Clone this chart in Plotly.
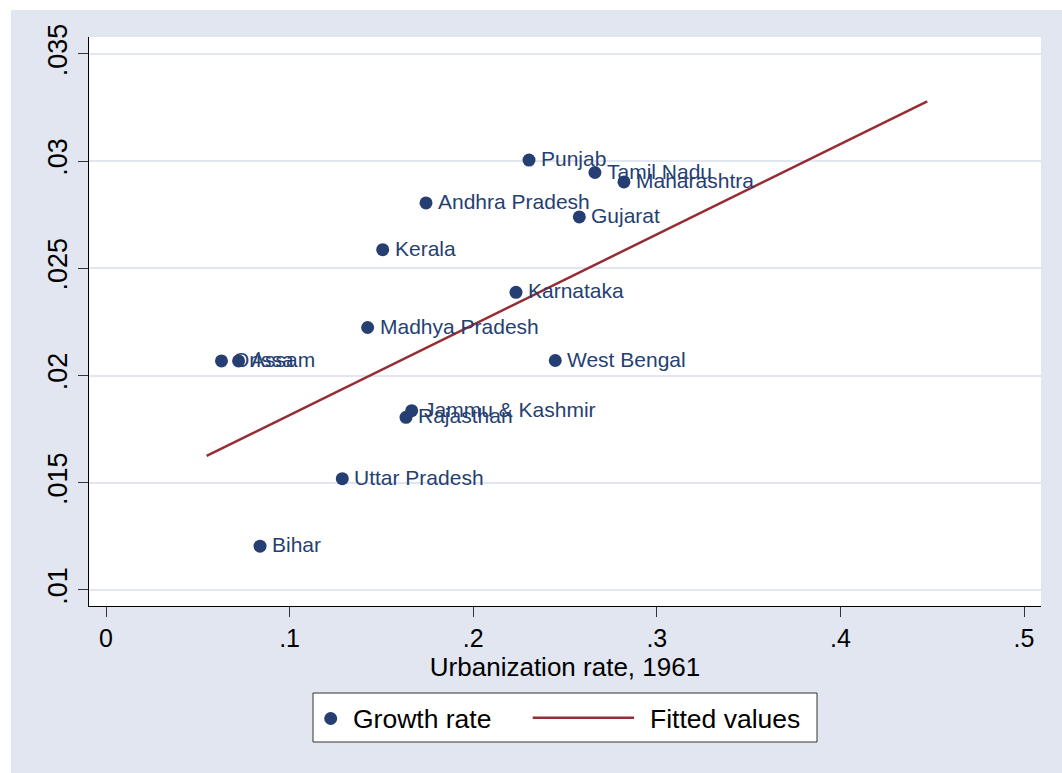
import plotly.graph_objects as go

# Indian states: urbanization rate in 1961 vs. growth rate
states = ["Punjab", "Tamil Nadu", "Maharashtra", "Andhra Pradesh", "Gujarat",
          "Kerala", "Karnataka", "Madhya Pradesh", "Orissa", "Assam",
          "West Bengal", "Jammu & Kashmir", "Rajasthan", "Uttar Pradesh", "Bihar"]
urbanization_1961 = [0.2304, 0.2663, 0.2821, 0.1743, 0.2578,
                     0.1507, 0.2233, 0.1425, 0.0629, 0.0722,
                     0.2447, 0.1665, 0.1634, 0.1287, 0.0839]
growth_rate = [0.03005, 0.02947, 0.02903, 0.02805, 0.02740,
               0.02587, 0.02388, 0.02224, 0.02068, 0.02068,
               0.02070, 0.01836, 0.01805, 0.01519, 0.01204]

# Linear fit evaluated at the ends of its range
fit_x = [0.0548, 0.4473]
fit_y = [0.01625, 0.03279]

x_ticks = [0, 0.1, 0.2, 0.3, 0.4, 0.5]
x_tick_labels = ["0", ".1", ".2", ".3", ".4", ".5"]
y_ticks = [0.01, 0.015, 0.02, 0.025, 0.03, 0.035]
y_tick_labels = [".01", ".015", ".02", ".025", ".03", ".035"]

NAVY = "rgb(38,63,114)"
MAROON = "rgb(150,44,52)"
BG = "rgb(225,230,240)"
FONT = "Liberation Sans, Arial, sans-serif"

W, H = 1062, 773
L, R, T, B = 89, 21, 37, 167
PW, PH = W - L - R, H - T - B


def px_x(px):
    return (px - L) / PW


def px_y(py):
    return (H - B - py) / PH


fig = go.Figure()

fig.add_trace(go.Scatter(
    x=urbanization_1961, y=growth_rate, text=states,
    mode="markers", hoverinfo="text+x+y",
    marker=dict(color=NAVY, size=13),
    name="Growth rate", showlegend=False, cliponaxis=False,
))

fig.add_trace(go.Scatter(
    x=fit_x, y=fit_y, mode="lines",
    line=dict(color=MAROON, width=2.5),
    name="Fitted values", showlegend=False,
))

# marker labels at 3 o'clock
annotations = [
    dict(text=name, x=xv, y=yv, xref="x", yref="y",
         xanchor="left", yanchor="middle", xshift=10, yshift=1.5,
         showarrow=False, font=dict(size=21, color=NAVY, family=FONT))
    for name, xv, yv in zip(states, urbanization_1961, growth_rate)
]

shapes = [
    # white margin strips along the top and left edges
    dict(type="rect", xref="paper", yref="paper", layer="below",
         x0=px_x(0), x1=px_x(W), y0=px_y(0), y1=px_y(10),
         fillcolor="white", line_width=0),
    dict(type="rect", xref="paper", yref="paper", layer="below",
         x0=px_x(0), x1=px_x(11), y0=px_y(0), y1=px_y(H),
         fillcolor="white", line_width=0),
    # legend box
    dict(type="rect", xref="paper", yref="paper",
         x0=px_x(313), x1=px_x(817), y0=px_y(693), y1=px_y(742),
         fillcolor="white", line=dict(color="#333333", width=1)),
    dict(type="circle", xref="paper", yref="paper",
         xsizemode="pixel", ysizemode="pixel",
         xanchor=px_x(330.7), yanchor=px_y(718.5),
         x0=-6.5, x1=6.5, y0=-6.5, y1=6.5,
         fillcolor=NAVY, line_width=0),
    dict(type="line", xref="paper", yref="paper",
         x0=px_x(532.7), x1=px_x(634), y0=px_y(717.7), y1=px_y(717.7),
         line=dict(color=MAROON, width=2.5)),
]

annotations += [
    dict(text="Growth rate", xref="paper", yref="paper",
         x=px_x(351), y=px_y(718.5), xanchor="left", yanchor="middle",
         showarrow=False, font=dict(size=26.5, color="black", family=FONT)),
    dict(text="Fitted values", xref="paper", yref="paper",
         x=px_x(648), y=px_y(718.5), xanchor="left", yanchor="middle",
         showarrow=False, font=dict(size=26.5, color="black", family=FONT)),
]

fig.update_layout(
    width=W, height=H,
    margin=dict(l=L, r=R, t=T, b=B, pad=0),
    paper_bgcolor=BG, plot_bgcolor="white",
    font=dict(family=FONT, color="black"),
    showlegend=False,
    shapes=shapes, annotations=annotations,
    xaxis=dict(
        range=[-0.00926, 0.50926], tickvals=x_ticks, ticktext=x_tick_labels,
        showgrid=False, zeroline=False,
        showline=True, linecolor="black", linewidth=1,
        ticks="outside", ticklen=10, tickwidth=1, tickcolor="#333333",
        tickfont=dict(size=25, family=FONT),
        title=dict(text="Urbanization rate, 1961",
                   font=dict(size=26, family=FONT), standoff=0),
    ),
    yaxis=dict(
        range=[0.00925, 0.03579], tickvals=y_ticks, ticktext=y_tick_labels,
        showgrid=True, gridcolor=BG, gridwidth=2, zeroline=False,
        showline=True, linecolor="black", linewidth=1,
        ticks="outside", ticklen=10, tickwidth=1, tickcolor="#333333",
        tickangle=-90, tickfont=dict(size=27, family=FONT),
    ),
)

fig.write_html("out.html")
